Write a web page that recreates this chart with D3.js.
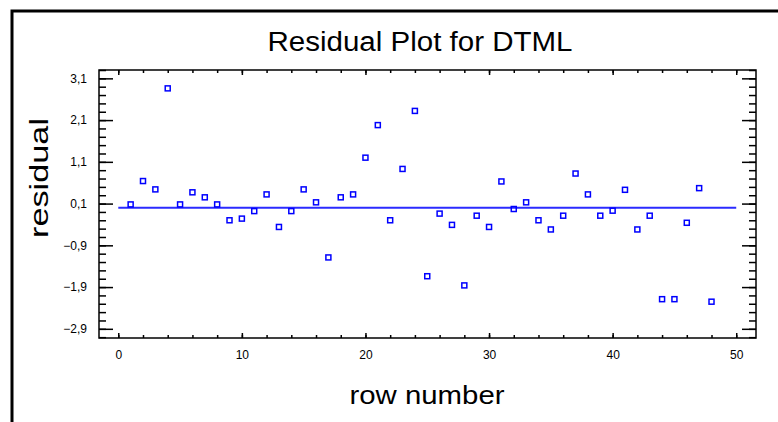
<!DOCTYPE html>
<html>
<head>
<meta charset="utf-8">
<script src="https://cdn.jsdelivr.net/npm/d3@7/dist/d3.min.js"></script>
<style>
  body { margin: 0; background: #fff; }
  text { font-family: "Liberation Sans", Arial, sans-serif; }
</style>
</head>
<body>
<script>
// residuals by row number
var rows = d3.range(1, 49);
var residuals = [
   0.08,  0.64,  0.44,  2.86,  0.08,  0.37,  0.25,  0.08, -0.30, -0.26,
  -0.08,  0.32, -0.46, -0.08,  0.44,  0.13, -1.19,  0.25,  0.32,  1.20,
   1.98, -0.30,  0.93,  2.32, -1.64, -0.14, -0.41, -1.86, -0.19, -0.46,
   0.63, -0.03,  0.13, -0.30, -0.52, -0.19,  0.82,  0.32, -0.19, -0.07,
   0.43, -0.52, -0.19, -2.19, -2.19, -0.36,  0.47, -2.25
];
var xMajor = [0, 10, 20, 30, 40, 50];
var xMinor = d3.range(0, 51, 2);
var yMajor = [-2.9, -1.9, -0.9, 0.1, 1.1, 2.1, 3.1];
var yMinor = d3.range(-31, 34, 2).map(function(d) { return d / 10; });
var zeroLine = [0, 50];

var W = 778, H = 422;
var svg = d3.select("body").append("svg").attr("width", W).attr("height", H);

// outer frame (right and bottom edges run off the picture)
svg.append("rect").attr("x", 12).attr("y", 11).attr("width", 820).attr("height", 460)
  .attr("fill", "none").attr("stroke", "#000").attr("stroke-width", 3);

var pLeft = 99, pRight = 756, pTop = 70, pBottom = 338;
var x = d3.scaleLinear().domain([-1.56, 51.6]).range([pLeft, pRight]);
var y = d3.scaleLinear().domain([-3.12, 3.3]).range([pBottom, pTop]);

var fmt = function(d) { return d3.format(".1f")(d).replace(".", ","); };

function axisG(a, tx, ty) {
  var g = svg.append("g").attr("transform", "translate(" + tx + "," + ty + ")").call(a);
  g.select(".domain").remove();
  g.selectAll("line").attr("stroke", "#000").attr("stroke-width", 1.5);
  return g;
}
// minor ticks on all four sides, pointing inward
axisG(d3.axisLeft(y).tickValues(yMinor).tickSize(-7).tickFormat(""), pLeft, 0);
axisG(d3.axisRight(y).tickValues(yMinor).tickSize(-7).tickFormat(""), pRight, 0);
axisG(d3.axisBottom(x).tickValues(xMinor).tickSize(-3).tickFormat(""), 0, pBottom);
axisG(d3.axisTop(x).tickValues(xMinor).tickSize(-3).tickFormat(""), 0, pTop);

// major ticks
var yl = axisG(d3.axisLeft(y).tickValues(yMajor).tickSize(-14).tickPadding(12).tickFormat(fmt), pLeft, 0);
axisG(d3.axisRight(y).tickValues(yMajor).tickSize(-14).tickFormat(""), pRight, 0);
var xl = axisG(d3.axisBottom(x).tickValues(xMajor).tickSize(-5).tickPadding(12).tickFormat(d3.format("d")), 0, pBottom);
axisG(d3.axisTop(x).tickValues(xMajor).tickSize(-5).tickFormat(""), 0, pTop);
yl.selectAll("text").attr("font-size", 12).attr("fill", "#000").style("font-family", "Liberation Sans");
xl.selectAll("text").attr("font-size", 12).attr("fill", "#000").style("font-family", "Liberation Sans");

// plot frame
svg.append("rect").attr("x", pLeft).attr("y", pTop).attr("width", pRight - pLeft).attr("height", pBottom - pTop)
  .attr("fill", "none").attr("stroke", "#000").attr("stroke-width", 1.5);

// fitted zero line
svg.append("line")
  .attr("x1", x(zeroLine[0])).attr("x2", x(zeroLine[1]))
  .attr("y1", y(0)).attr("y2", y(0))
  .attr("stroke", "#2b2bff").attr("stroke-width", 2);

// points
svg.selectAll("rect.pt").data(rows).enter().append("rect").attr("class", "pt")
  .attr("x", function(d) { return x(d) - 2.5; })
  .attr("y", function(d, i) { return y(residuals[i]) - 2.5; })
  .attr("width", 5).attr("height", 5)
  .attr("fill", "none").attr("stroke", "#0000ff").attr("stroke-width", 1.5);

// titles
svg.append("text").attr("x", 420).attr("y", 51).attr("text-anchor", "middle")
  .attr("font-size", 27).attr("textLength", 305).attr("lengthAdjust", "spacingAndGlyphs")
  .text("Residual Plot for DTML");
svg.append("text").attr("x", 427).attr("y", 404).attr("text-anchor", "middle")
  .attr("font-size", 26).attr("textLength", 155).attr("lengthAdjust", "spacingAndGlyphs")
  .text("row number");
svg.append("text").attr("transform", "translate(48,178) rotate(-90)").attr("text-anchor", "middle")
  .attr("font-size", 26).attr("textLength", 120).attr("lengthAdjust", "spacingAndGlyphs")
  .text("residual");
</script>
</body>
</html>
